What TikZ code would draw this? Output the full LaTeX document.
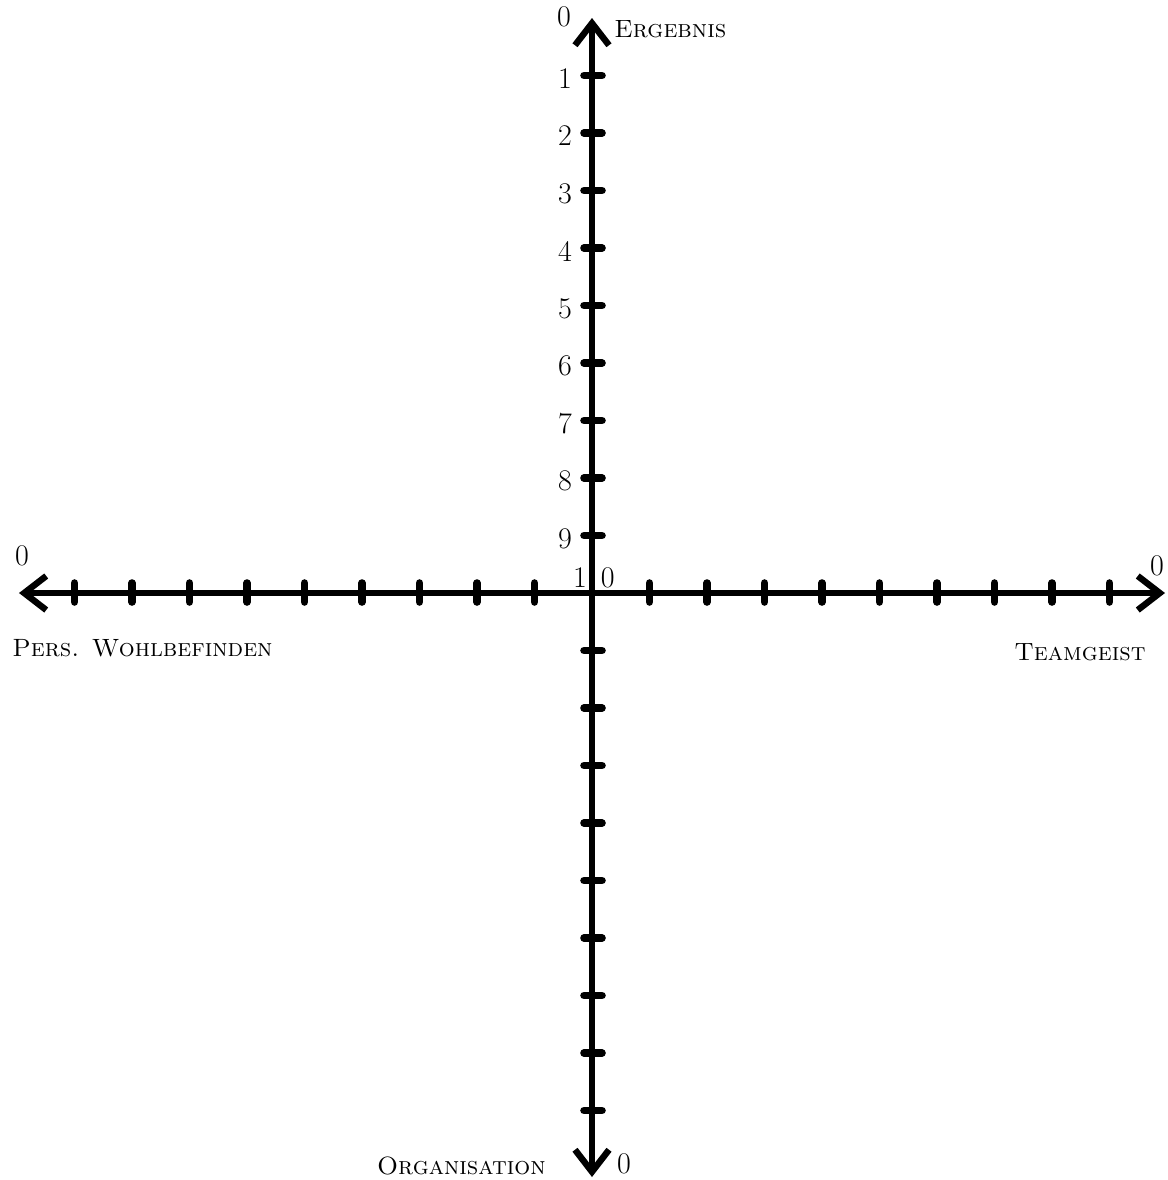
\documentclass[tikz,border=0pt]{standalone}
\usetikzlibrary{arrows.meta}
\begin{document}
\begin{tikzpicture}[x=0.5pt,y=-0.5pt,
  tip/.tip={Straight Barb[length=11pt,width=17pt,line width=3.2pt]},
  axis/.style={line width=2.6pt,tip-tip},
  tick/.style={line width=3.8pt,line cap=round},
  num/.style={font=\fontsize{15}{15}\selectfont,inner sep=0pt},
  lbl/.style={font=\fontsize{12.5}{12.5}\selectfont\scshape,inner sep=0pt}]
\useasboundingbox (0,0) rectangle (1168,1180);
\coordinate (top) at (592,18);
\coordinate (bot) at (592,1177);
\coordinate (lft) at (19,593);
\coordinate (rgt) at (1165,593);
\draw[axis] (bot) -- (top);
\draw[axis] (lft) -- (rgt);
\foreach \k in {1,...,9}{
  \draw[tick] (584,{593-57.5*\k}) -- (602,{593-57.5*\k});
  \draw[tick] (584,{593+57.5*\k}) -- (602,{593+57.5*\k});
  \draw[tick] ({592-57.5*\k},583) -- ({592-57.5*\k},602);
  \draw[tick] ({592+57.5*\k},583) -- ({592+57.5*\k},602);
}
\foreach \k in {1,...,9}{
  \node[num] (n\k) at (565,{593-57.5*(10-\k)+3}) {\k};
}
\node[num] (n10) at (594,578) {1\kern7pt0};
\node[num] (ztop) at (564,17) {0};
\node[num] (zl) at (22,556) {0};
\node[num] (zr) at (1157,566) {0};
\node[num] (zb) at (624,1164) {0};
\node[lbl,anchor=west] (erg) at (614,29) {Ergebnis};
\node[lbl,anchor=west] (pers) at (12,648) {Pers. Wohlbefinden};
\node[lbl,anchor=east] (team) at (1146,652) {Teamgeist};
\node[lbl,anchor=east] (org) at (546,1166) {Organisation};
\end{tikzpicture}
\end{document}
